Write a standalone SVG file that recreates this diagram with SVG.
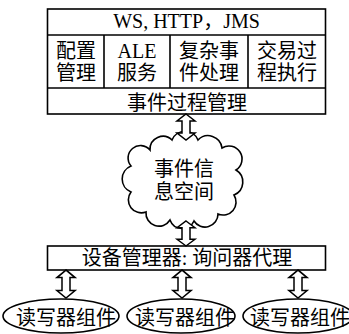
<svg xmlns="http://www.w3.org/2000/svg" width="349" height="334" viewBox="0 0 349 334">
<style>
.box{fill:#fff;stroke:#000;stroke-width:1.6}
.ln{stroke:#000;stroke-width:1.6;fill:none}
.t{font-family:"Liberation Serif","Noto Sans CJK SC",serif;font-size:20px;fill:#000;text-anchor:middle}
.arr{fill:#fff;stroke:#000;stroke-width:1.5;stroke-linejoin:miter}
</style>
<defs>
<path id="darr" d="M0,0 L9,7 L4,7 L4,19 L9,19 L0,26 L-9,19 L-4,19 L-4,7 L-9,7 Z"/>
</defs>
<rect width="349" height="334" fill="#fff"/>
<g id="top-stack">
<rect class="box" x="47.5" y="9" width="278" height="105"/>
<line class="ln" x1="47.5" y1="35" x2="325.5" y2="35"/>
<line class="ln" x1="47.5" y1="88" x2="325.5" y2="88"/>
<line class="ln" x1="104" y1="35" x2="104" y2="88"/>
<line class="ln" x1="170" y1="35" x2="170" y2="88"/>
<line class="ln" x1="248" y1="35" x2="248" y2="88"/>
</g>
<g id="protocols"><text class="t" x="186.5" y="28">WS, HTTP，JMS</text></g>
<g id="config"><text class="t" x="76" y="58">配置</text><text class="t" x="76" y="80">管理</text></g>
<g id="ale"><text class="t" x="137" y="58">ALE</text><text class="t" x="137" y="80">服务</text></g>
<g id="cep"><text class="t" x="209" y="58">复杂事</text><text class="t" x="209" y="80">件处理</text></g>
<g id="tx"><text class="t" x="287" y="58">交易过</text><text class="t" x="287" y="80">程执行</text></g>
<g id="epm"><text class="t" x="187" y="110">事件过程管理</text></g>
<g id="cloud">
<path class="box" d="M150,150 A13,13 0 0 1 172,140 A14,14 0 0 1 198,140 A14,14 0 0 1 222,148 A13,13 0 0 1 236,170 A14,14 0 0 1 234,195 A13,13 0 0 1 218,214 A13,13 0 0 1 194,221 A13,13 0 0 1 170,220 A13,13 0 0 1 146,212 A13,13 0 0 1 131,192 A14,14 0 0 1 131,166 A12,12 0 0 1 150,150 Z"/>
<text class="t" x="184" y="176">事件信</text>
<text class="t" x="184" y="199">息空间</text>
</g>
<g id="device-manager">
<rect class="box" x="47.5" y="246" width="278" height="24"/>
<text class="t" x="187" y="265">设备管理器: 询问器代理</text>
</g>
<g id="reader1">
<ellipse class="box" cx="61" cy="316" rx="58" ry="17"/>
<text class="t" x="66" y="325">读写器组件</text>
</g>
<g id="reader2">
<ellipse class="box" cx="181" cy="316" rx="54" ry="17"/>
<text class="t" x="185" y="325">读写器组件</text>
</g>
<g id="reader3">
<ellipse class="box" cx="298" cy="316" rx="55" ry="17"/>
<text class="t" x="300" y="325">读写器组件</text>
</g>
<g id="connectors">
<use href="#darr" class="arr" transform="translate(186,114)"/>
<use href="#darr" class="arr" transform="translate(186,221) scale(1,0.96)"/>
<use href="#darr" class="arr" transform="translate(66,270) scale(1,1.08)"/>
<use href="#darr" class="arr" transform="translate(182,270) scale(1,1.08)"/>
<use href="#darr" class="arr" transform="translate(298,270) scale(1,1.08)"/>
</g>
</svg>
